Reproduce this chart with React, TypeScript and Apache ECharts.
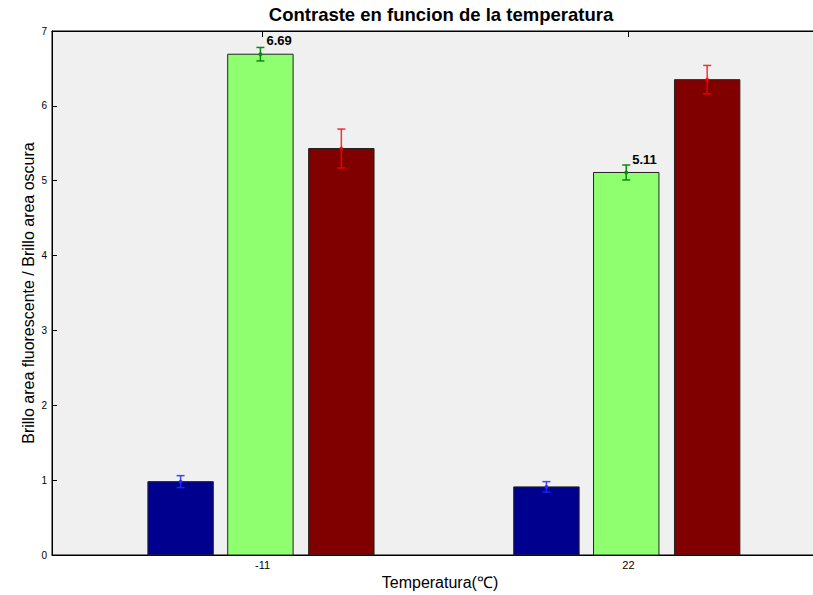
import React, { useEffect, useRef } from "react";
import * as echarts from "echarts";

// Data
const categories = [-11, 22];
const tickLabels = ["-11", "22"];
const blueMeans = [0.98, 0.91];
const blueErr = [0.08, 0.07];
const greenMeans = [6.69, 5.11];
const greenErr = [0.09, 0.1];
const redMeans = [5.43, 6.35];
const redErr = [0.26, 0.19];
const greenLabels = ["6.69", "5.11"];

const FONT = "Liberation Sans, Arial, sans-serif";
const BAR_W = 5.9; // in x-axis units
const OFFSETS = [-7.4, -0.2, 7.1];

function makeSeries(
  means: number[],
  errs: number[],
  offset: number,
  fill: string,
  errColor: string,
  labels: string[] | null
) {
  const data = categories.map((c, i) => [c, means[i], errs[i], i]);
  return {
    type: "custom",
    data,
    encode: { x: 0, y: 1 },
    clip: false,
    renderItem: (params: any, api: any) => {
      const x = api.value(0) + offset;
      const y = api.value(1);
      const e = api.value(2);
      const idx = api.value(3);
      const p1 = api.coord([x - BAR_W / 2, y]);
      const p2 = api.coord([x + BAR_W / 2, 0]);
      const c = api.coord([x, y]);
      const top = api.coord([x, y + e]);
      const bot = api.coord([x, y - e]);
      const cap = 4;
      const children: any[] = [
        {
          type: "rect",
          shape: { x: p1[0], y: p1[1], width: p2[0] - p1[0], height: p2[1] - p1[1] },
          style: { fill, stroke: "#222", lineWidth: 1 },
        },
        {
          type: "line",
          shape: { x1: c[0], y1: top[1], x2: c[0], y2: bot[1] },
          style: { stroke: errColor, lineWidth: 1.5 },
        },
        {
          type: "line",
          shape: { x1: c[0] - cap, y1: top[1], x2: c[0] + cap, y2: top[1] },
          style: { stroke: errColor, lineWidth: 1.5 },
        },
        {
          type: "line",
          shape: { x1: c[0] - cap, y1: bot[1], x2: c[0] + cap, y2: bot[1] },
          style: { stroke: errColor, lineWidth: 1.5 },
        },
        {
          type: "circle",
          shape: { cx: c[0], cy: c[1], r: 2 },
          style: { fill: errColor },
        },
      ];
      if (labels) {
        const lp = api.coord([x, y + 0.18]);
        children.push({
          type: "text",
          style: {
            text: labels[idx],
            x: lp[0] + 6,
            y: lp[1],
            align: "left",
            verticalAlign: "middle",
            font: `bold 13px ${FONT}`,
            fill: "#000",
          },
        });
      }
      return { type: "group", children };
    },
  };
}

export default function App() {
  const ref = useRef<HTMLDivElement>(null);
  useEffect(() => {
    if (!ref.current) return;
    const chart = echarts.init(ref.current, null, { renderer: "svg" });
    chart.setOption({
      animation: false,
      backgroundColor: "#ffffff",
      title: {
        text: "Contraste en funcion de la temperatura",
        left: 436,
        textAlign: "center",
        top: 0,
        textStyle: { fontFamily: FONT, fontSize: 18.5, fontWeight: "bold", color: "#000" },
      },
      grid: {
        left: 52,
        top: 31,
        bottom: 40,
        right: 17,
        outerBoundsMode: "none",
        containLabel: false,
        show: true,
        backgroundColor: "#f0f0f0",
        borderColor: "#000",
        borderWidth: 1,
      },
      xAxis: [
        {
          type: "value",
          min: -30,
          max: 40,
          name: "Temperatura(℃)",
          nameLocation: "middle",
          nameGap: 19,
          nameMoveOverlap: false,
          nameTextStyle: { fontFamily: FONT, fontSize: 16, color: "#000" },
          splitLine: { show: false },
          axisLine: { show: true, onZero: false, lineStyle: { color: "#000", width: 1 } },
          axisTick: {
            show: true,
            inside: true,
            length: 6,
            customValues: categories,
            lineStyle: { color: "#000" },
          },
          axisLabel: {
            customValues: categories,
            formatter: (v: number) => tickLabels[categories.indexOf(v)] ?? "",
            fontFamily: FONT,
            fontSize: 11,
            color: "#000",
            margin: 4,
          },
        },
        {
          type: "value",
          position: "top",
          min: -30,
          max: 40,
          splitLine: { show: false },
          axisLine: { show: true, onZero: false, lineStyle: { color: "#000", width: 1 } },
          axisTick: {
            show: true,
            inside: true,
            length: 6,
            customValues: categories,
            lineStyle: { color: "#000" },
          },
          axisLabel: { show: false },
        },
      ],
      yAxis: {
        type: "value",
        min: 0,
        max: 7,
        interval: 1,
        name: "Brillo area fluorescente / Brillo area oscura",
        nameLocation: "middle",
        nameGap: 16,
        nameMoveOverlap: false,
        nameTextStyle: { fontFamily: FONT, fontSize: 16, color: "#000" },
        splitLine: { show: false },
        axisLine: { show: true, onZero: false, lineStyle: { color: "#000", width: 1 } },
        axisTick: { show: true, inside: true, length: 5, lineStyle: { color: "#000" } },
        axisLabel: { fontFamily: FONT, fontSize: 10, color: "#000", margin: 5 },
      },
      series: [
        makeSeries(blueMeans, blueErr, OFFSETS[0], "#00008f", "rgba(40,40,255,0.85)", null),
        makeSeries(greenMeans, greenErr, OFFSETS[1], "#8fff70", "#0a8a0a", greenLabels),
        makeSeries(redMeans, redErr, OFFSETS[2], "#800000", "rgba(255,0,0,0.8)", null),
      ],
    });
    return () => chart.dispose();
  }, []);
  return (
    <div style={{ position: "fixed", left: 0, top: 0, width: 813, height: 595, overflow: "hidden", background: "#fff" }}>
      <div ref={ref} style={{ width: 845, height: 595 }} />
    </div>
  );
}
